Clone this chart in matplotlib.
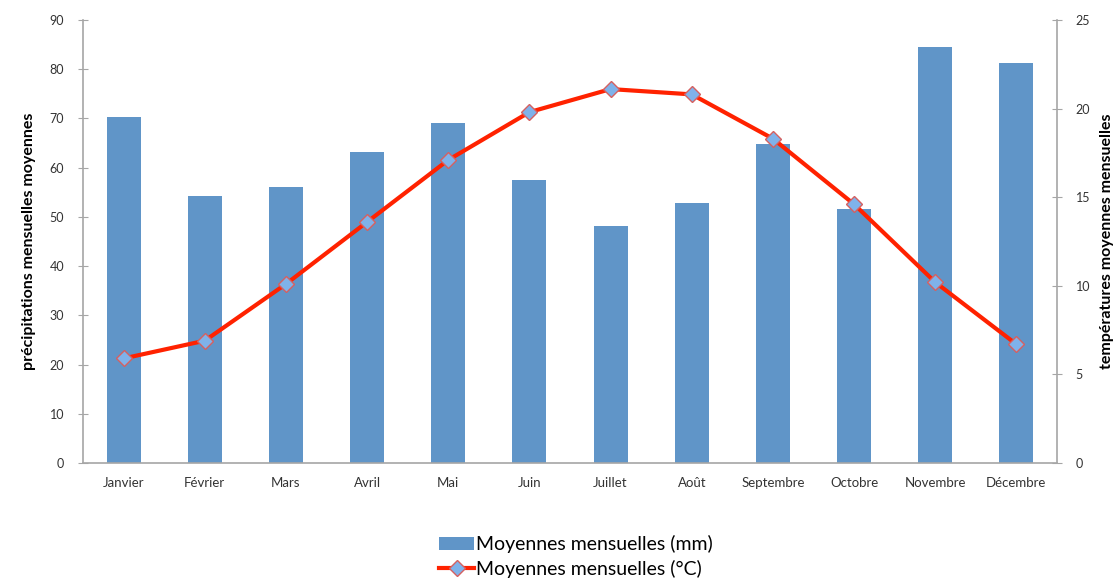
import matplotlib.pyplot as plt
from matplotlib.lines import Line2D
from matplotlib.patches import Patch

# Monthly climate data
months = ['Janvier', 'Février', 'Mars', 'Avril', 'Mai', 'Juin', 'Juillet',
          'Août', 'Septembre', 'Octobre', 'Novembre', 'Décembre']
precip_mm = [70.2, 54.2, 56.0, 63.1, 69.0, 57.4, 48.2, 52.9, 64.8, 51.6, 84.6, 81.2]
temp_c = [5.9, 6.9, 10.1, 13.6, 17.1, 19.8, 21.1, 20.8, 18.3, 14.6, 10.2, 6.7]
left_ticks = list(range(0, 91, 10))
right_ticks = list(range(0, 26, 5))

plt.rcParams['font.family'] = ['Lato', 'DejaVu Sans']

BAR_COLOR = '#6095c8'
LINE_COLOR = '#ff2200'
AXIS_COLOR = '#a6a6a6'

fig = plt.figure(figsize=(11.19, 5.84), dpi=100)
ax = fig.add_axes([0.0742, 0.2072, 0.8704, 0.7586])
ax2 = ax.twinx()

x = range(len(months))
ax.bar(x, precip_mm, width=0.42, color=BAR_COLOR, zorder=2)
ax2.plot(x, temp_c, color=LINE_COLOR, linewidth=3, marker='D', markersize=8,
         markerfacecolor='#7fb2ea', markeredgecolor='#d66060', markeredgewidth=1,
         zorder=3)

ax.set_xlim(-0.5, len(months) - 0.5)
ax.set_ylim(0, 90)
ax2.set_ylim(0, 25)
ax.set_yticks(left_ticks)
ax2.set_yticks(right_ticks)
ax.set_xticks(list(x))
ax.set_xticklabels(months)

for a in (ax, ax2):
    a.spines['top'].set_visible(False)
    for s in ('left', 'right', 'bottom'):
        a.spines[s].set_color(AXIS_COLOR)
        a.spines[s].set_linewidth(1.2)
ax.spines['right'].set_visible(False)
ax2.spines['left'].set_visible(False)
ax2.spines['bottom'].set_visible(False)

ax.tick_params(axis='y', direction='inout', length=7, color=AXIS_COLOR,
               labelsize=9, labelcolor='#333333', pad=10)
ax.tick_params(axis='x', length=0, labelsize=9.5, labelcolor='#333333', pad=10)
ax2.tick_params(axis='y', direction='inout', length=7, color=AXIS_COLOR,
                labelsize=9, labelcolor='#333333', pad=10)

ax.set_ylabel('précipitations mensuelles moyennes', fontsize=11.5,
              fontweight='bold', labelpad=10)
ax2.set_ylabel('températures moyennes mensuelles', fontsize=11.5,
               fontweight='bold', rotation=90, labelpad=7)

handles = [Patch(facecolor=BAR_COLOR),
           Line2D([], [], color=LINE_COLOR, linewidth=3, marker='D', markersize=8,
                  markerfacecolor='#7fb2ea', markeredgecolor='#d66060')]
labels = ['Moyennes mensuelles (mm)', 'Moyennes mensuelles (°C)']
fig.legend(handles, labels, loc='upper center', bbox_to_anchor=(0.515, 0.1),
           frameon=False, fontsize=14, handlelength=1.8, handletextpad=0.1,
           labelspacing=0.35, borderpad=0)

fig.savefig('out.png', dpi=100)
